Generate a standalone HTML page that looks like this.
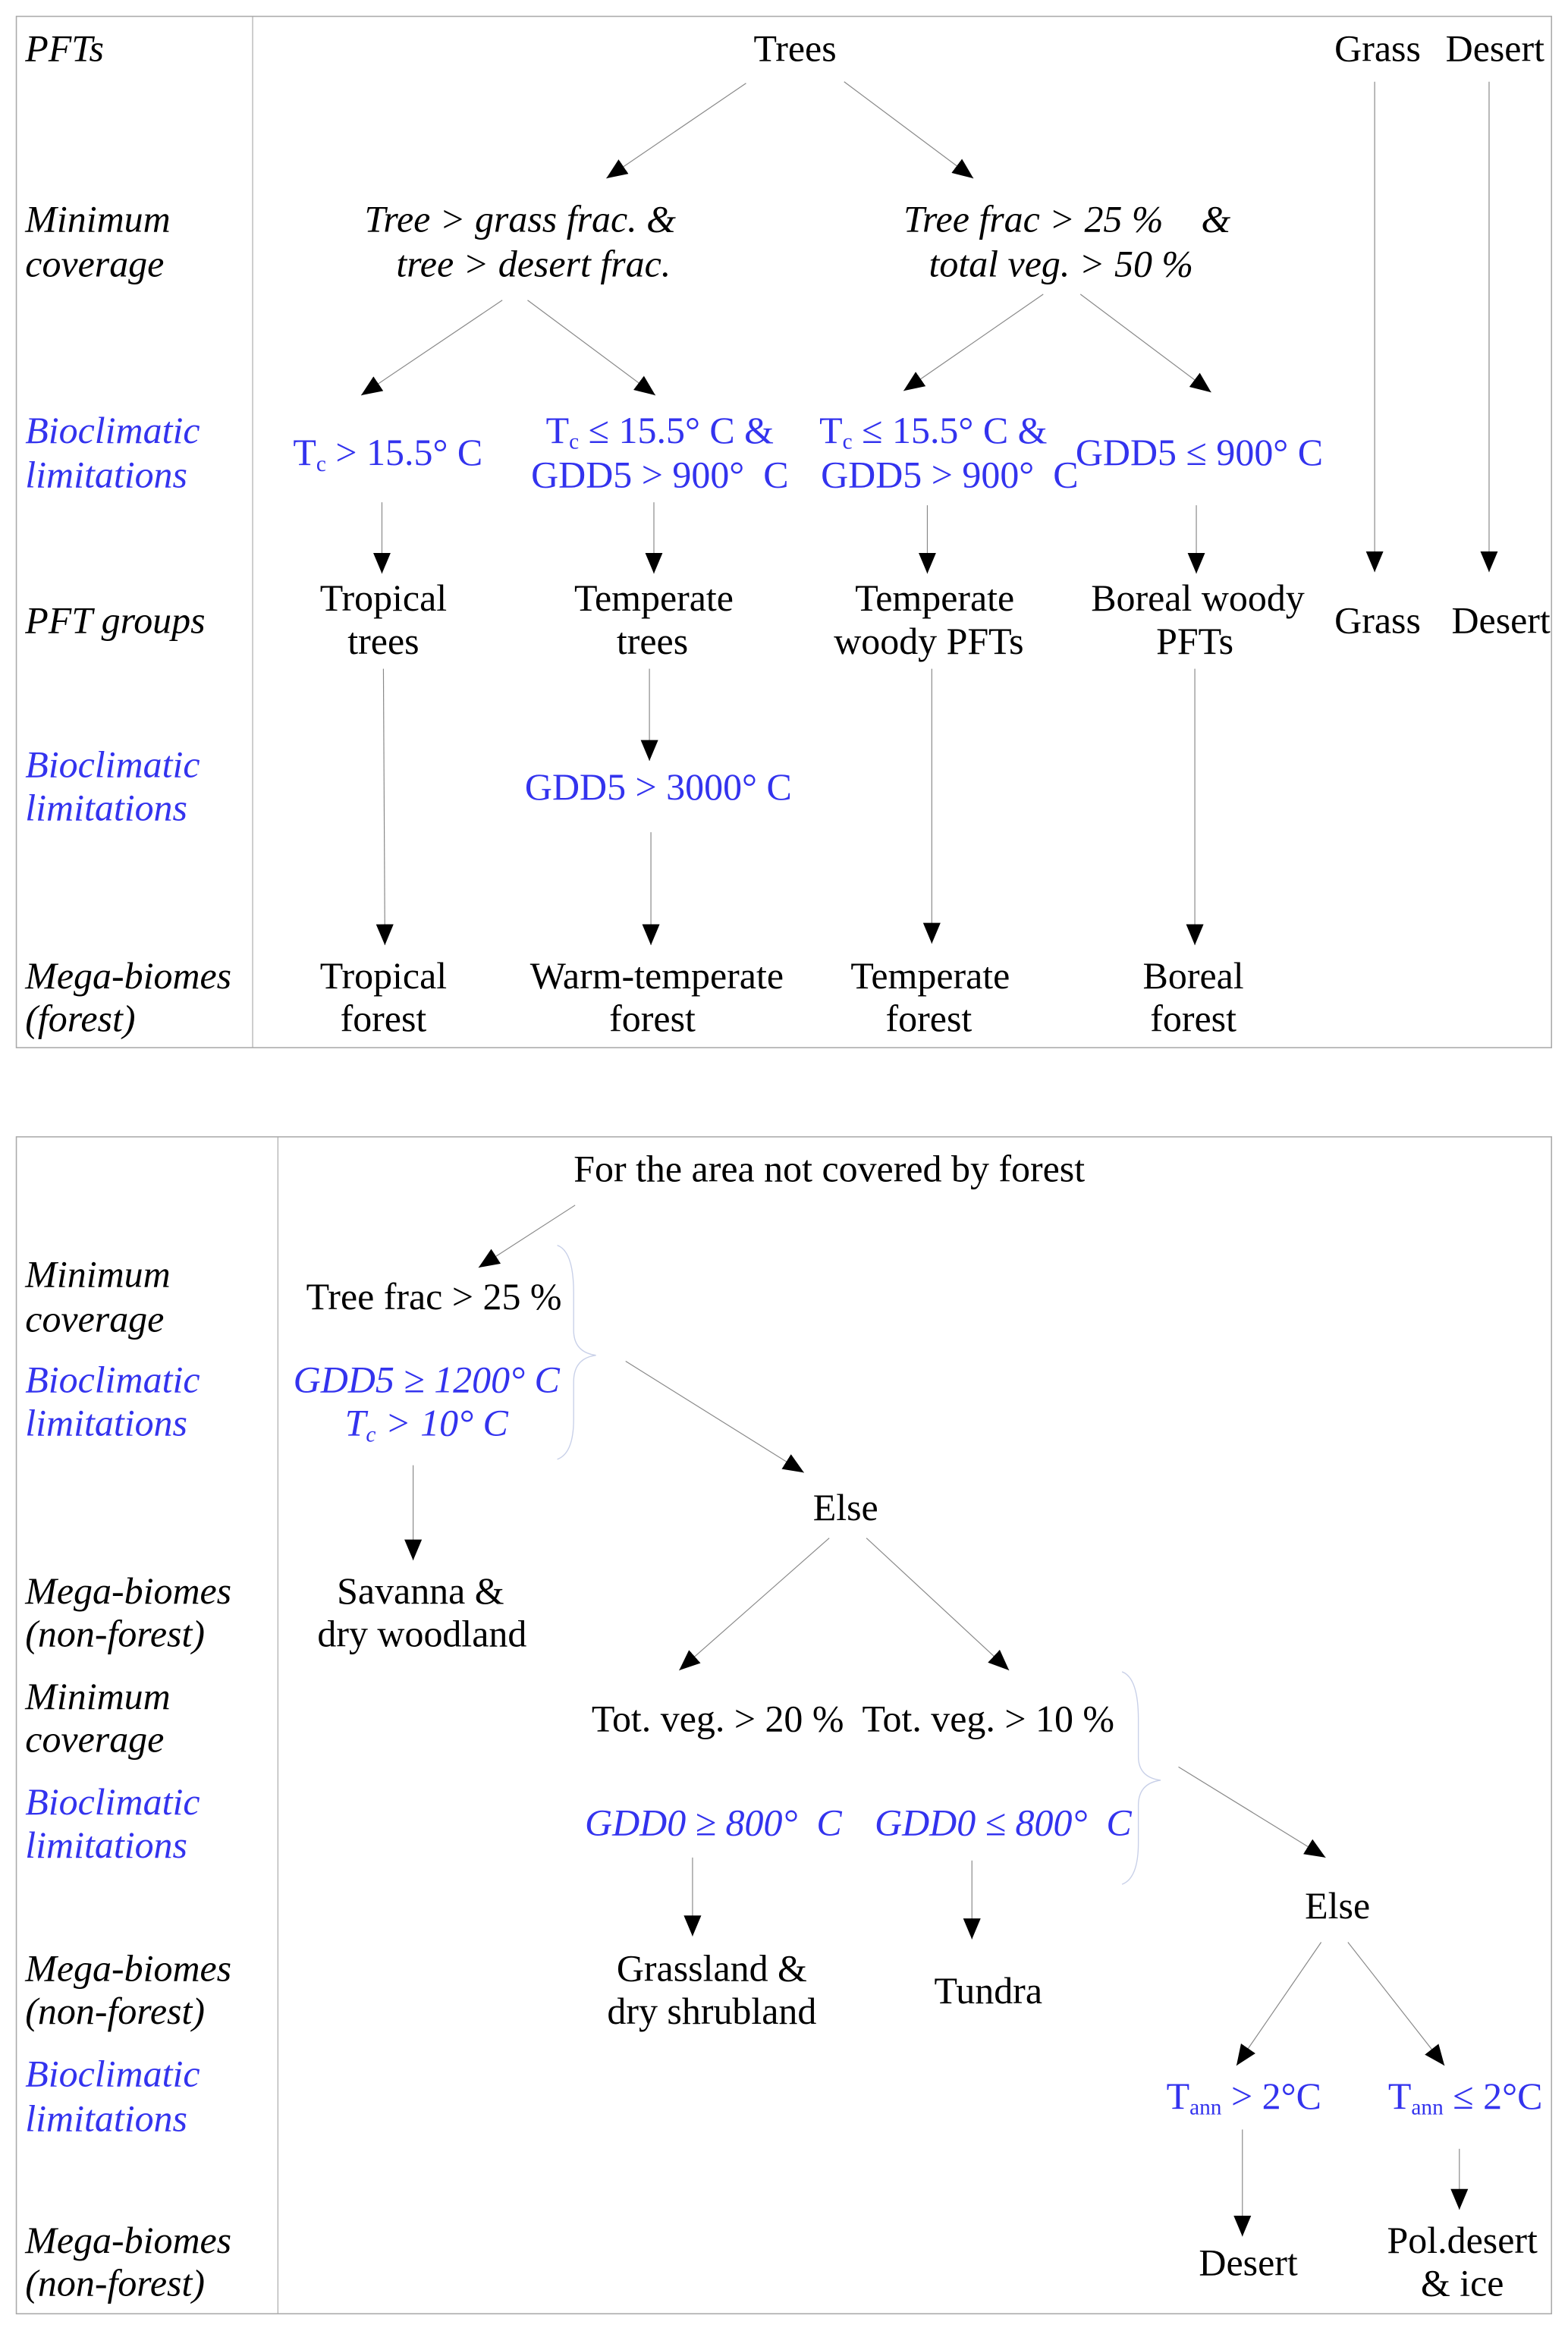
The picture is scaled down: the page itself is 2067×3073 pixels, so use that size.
<!DOCTYPE html>
<html><head><meta charset="utf-8"><style>
html,body{margin:0;padding:0;background:#fff}
svg{display:block}
text{font-family:"Liberation Serif",serif;font-size:25.5px;fill:#000}
.i{font-style:italic}
.b{fill:#3333ee}
.m{text-anchor:middle}
line{stroke:#888;stroke-width:0.6}
</style></head><body>
<svg width="2067" height="3073" viewBox="0 0 1055.1 1568.6" xmlns="http://www.w3.org/2000/svg">
<defs><marker id="a" viewBox="0 0 10 10" refX="10" refY="5" markerWidth="14" markerHeight="14" markerUnits="userSpaceOnUse" orient="auto"><path d="M0,0.8 L10,5 L0,9.2 z" fill="#000"/></marker></defs>
<g fill="none" stroke="#aaa" stroke-width="0.8">
<rect x="11" y="11" width="1033" height="694"/><line x1="170" y1="11" x2="170" y2="705" style="stroke:#aaa"/>
<rect x="11" y="765" width="1033" height="792"/><line x1="187" y1="765" x2="187" y2="1557" style="stroke:#aaa"/>
</g>
<text class="i" x="17" y="41">PFTs</text>
<text class="i" x="17" y="156">Minimum</text><text class="i" x="17" y="186">coverage</text>
<text class="i b" x="17" y="298">Bioclimatic</text><text class="i b" x="17" y="328">limitations</text>
<text class="i" x="17" y="426">PFT groups</text>
<text class="i b" x="17" y="523">Bioclimatic</text><text class="i b" x="17" y="552">limitations</text>
<text class="i" x="17" y="665">Mega-biomes</text><text class="i" x="17" y="694">(forest)</text>
<text class="m" x="535" y="41">Trees</text>
<text class="m" x="927" y="41">Grass</text><text class="m" x="1006" y="41">Desert</text>
<text class="m i" x="350" y="156">Tree &gt; grass frac. &amp;</text><text class="m i" x="359" y="186">tree &gt; desert frac.</text>
<text class="m i" x="718" y="156" xml:space="preserve">Tree frac &gt; 25 %    &amp;</text><text class="m i" x="714" y="186">total veg. &gt; 50 %</text>
<text class="m b" x="261" y="313">T<tspan font-size="15" dy="4">c</tspan><tspan dy="-4"> &gt; 15.5° C</tspan></text>
<text class="m b" x="444" y="298">T<tspan font-size="15" dy="4">c</tspan><tspan dy="-4"> ≤ 15.5° C &amp;</tspan></text>
<text class="m b" x="444" y="328" xml:space="preserve">GDD5 &gt; 900°  C</text>
<text class="m b" x="628" y="298">T<tspan font-size="15" dy="4">c</tspan><tspan dy="-4"> ≤ 15.5° C &amp;</tspan></text>
<text class="m b" x="639" y="328" xml:space="preserve">GDD5 &gt; 900°  C</text>
<text class="m b" x="807" y="313">GDD5 ≤ 900° C</text>
<text class="m" x="258" y="411">Tropical</text><text class="m" x="258" y="440">trees</text>
<text class="m" x="440" y="411">Temperate</text><text class="m" x="439" y="440">trees</text>
<text class="m" x="629" y="411">Temperate</text><text class="m" x="625" y="440">woody PFTs</text>
<text class="m" x="806" y="411">Boreal woody</text><text class="m" x="804" y="440">PFTs</text>
<text class="m" x="927" y="426">Grass</text><text class="m" x="1010" y="426">Desert</text>
<text class="m b" x="443" y="538">GDD5 &gt; 3000° C</text>
<text class="m" x="258" y="665">Tropical</text><text class="m" x="258" y="694">forest</text>
<text class="m" x="442" y="665">Warm-temperate</text><text class="m" x="439" y="694">forest</text>
<text class="m" x="626" y="665">Temperate</text><text class="m" x="625" y="694">forest</text>
<text class="m" x="803" y="665">Boreal</text><text class="m" x="803" y="694">forest</text>
<g marker-end="url(#a)">
<line x1="502" y1="56" x2="408" y2="120"/><line x1="568" y1="55" x2="655" y2="120"/>
<line x1="338" y1="202" x2="243" y2="266"/><line x1="355" y1="202" x2="441" y2="266"/>
<line x1="702" y1="198" x2="608" y2="263"/><line x1="727" y1="198" x2="815" y2="264"/>
<line x1="925" y1="55" x2="925" y2="385"/><line x1="1002" y1="55" x2="1002" y2="385"/>
<line x1="257" y1="338" x2="257" y2="386"/><line x1="440" y1="338" x2="440" y2="386"/>
<line x1="624" y1="340" x2="624" y2="386"/><line x1="805" y1="340" x2="805" y2="386"/>
<line x1="258" y1="450" x2="259" y2="636"/><line x1="437" y1="450" x2="437" y2="512"/>
<line x1="438" y1="560" x2="438" y2="636"/><line x1="627" y1="450" x2="627" y2="635"/>
<line x1="804" y1="450" x2="804" y2="636"/>
</g>
<text class="i" x="17" y="866">Minimum</text><text class="i" x="17" y="896">coverage</text>
<text class="i b" x="17" y="937">Bioclimatic</text><text class="i b" x="17" y="966">limitations</text>
<text class="i" x="17" y="1079">Mega-biomes</text><text class="i" x="17" y="1108">(non-forest)</text>
<text class="i" x="17" y="1150">Minimum</text><text class="i" x="17" y="1179">coverage</text>
<text class="i b" x="17" y="1221">Bioclimatic</text><text class="i b" x="17" y="1250">limitations</text>
<text class="i" x="17" y="1333">Mega-biomes</text><text class="i" x="17" y="1362">(non-forest)</text>
<text class="i b" x="17" y="1404">Bioclimatic</text><text class="i b" x="17" y="1434">limitations</text>
<text class="i" x="17" y="1516">Mega-biomes</text><text class="i" x="17" y="1545">(non-forest)</text>
<text class="m" x="558" y="795">For the area not covered by forest</text>
<text class="m" x="292" y="881">Tree frac &gt; 25 %</text>
<text class="m i b" x="287" y="937">GDD5 ≥ 1200° C</text>
<text class="m i b" x="287" y="966">T<tspan font-size="15" dy="4">c</tspan><tspan dy="-4"> &gt; 10° C</tspan></text>
<text class="m" x="569" y="1023">Else</text>
<text class="m" x="283" y="1079">Savanna &amp;</text><text class="m" x="284" y="1108">dry woodland</text>
<text class="m" x="483" y="1165">Tot. veg. &gt; 20 %</text><text class="m" x="665" y="1165">Tot. veg. &gt; 10 %</text>
<text class="m i b" x="480" y="1235" xml:space="preserve">GDD0 ≥ 800°  C</text>
<text class="m i b" x="675" y="1235" xml:space="preserve">GDD0 ≤ 800°  C</text>
<text class="m" x="479" y="1333">Grassland &amp;</text><text class="m" x="479" y="1362">dry shrubland</text>
<text class="m" x="665" y="1348">Tundra</text>
<text class="m" x="900" y="1291">Else</text>
<text class="m b" x="837" y="1419">T<tspan font-size="15" dy="4">ann</tspan><tspan dy="-4"> &gt; 2°C</tspan></text>
<text class="m b" x="986" y="1419">T<tspan font-size="15" dy="4">ann</tspan><tspan dy="-4"> ≤ 2°C</tspan></text>
<text class="m" x="840" y="1531">Desert</text>
<text class="m" x="984" y="1516">Pol.desert</text><text class="m" x="984" y="1545">&amp; ice</text>
<g fill="none" stroke="#c8d0e8" stroke-width="0.7">
<path d="M375,838 Q386,842 386,870 L386,895 Q386,910 401,912 Q386,914 386,930 L386,955 Q386,978 375,982"/>
<path d="M755,1125 Q766,1129 766,1157 L766,1182 Q766,1196 781,1198 Q766,1200 766,1215 L766,1240 Q766,1264 755,1268"/>
</g>
<g marker-end="url(#a)">
<line x1="387" y1="811" x2="322" y2="853"/><line x1="421" y1="916" x2="541" y2="991"/>
<line x1="278" y1="986" x2="278" y2="1050"/>
<line x1="558" y1="1035" x2="457" y2="1124"/><line x1="583" y1="1035" x2="679" y2="1124"/>
<line x1="793" y1="1189" x2="892" y2="1250"/>
<line x1="466" y1="1250" x2="466" y2="1303"/><line x1="654" y1="1252" x2="654" y2="1305"/>
<line x1="889" y1="1307" x2="832" y2="1390"/><line x1="907" y1="1307" x2="972" y2="1390"/>
<line x1="836" y1="1433" x2="836" y2="1505"/><line x1="982" y1="1446" x2="982" y2="1487"/>
</g>
</svg>
</body></html>
